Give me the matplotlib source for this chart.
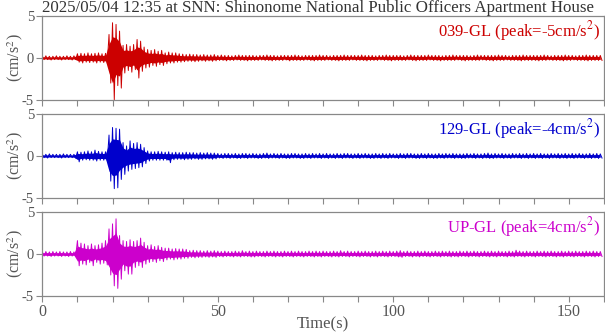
import matplotlib
matplotlib.use("Agg")
import matplotlib.pyplot as plt
import numpy as np

plt.rcParams['font.family'] = ['Liberation Serif', 'DejaVu Serif']
plt.rcParams['mathtext.fontset'] = 'stix'
plt.rcParams['axes.unicode_minus'] = False

# ---- record info
title = "2025/05/04 12:35 at SNN: Shinonome National Public Officers Apartment House"
channels = ["039-GL", "129-GL", "UP-GL"]
peaks = [-5, -4, 4]
colors = ["#cc0000", "#0000cc", "#cc00cc"]

# ---- envelope, 1 s steps (upper peak at t, lower peak at t+0.5)
ew_hi = [0.2, 0.25, 0.2, 0.2, 0.25, 0.2, 0.2, 0.25, 0.2, 0.25,
         0.5, 0.55, 0.5, 0.6, 0.5, 0.55, 0.6, 0.5, 0.55, 2.8,
         4.2, 4.0, 3.2, 1.5, 1.6, 1.4, 1.6, 2.2, 2.0, 1.3,
         1.0, 0.9, 1.0, 0.8, 0.9, 0.6, 0.7, 0.6, 0.6, 0.5,
         0.45, 0.4, 0.45, 0.4, 0.4, 0.35, 0.4, 0.35, 0.35, 0.4,
         0.3, 0.35, 0.3, 0.3, 0.25, 0.3, 0.35, 0.3, 0.3, 0.3,
         0.3, 0.25, 0.3, 0.3, 0.35, 0.3, 0.3, 0.25, 0.3, 0.3,
         0.3, 0.3, 0.35, 0.3, 0.25, 0.3, 0.3, 0.3, 0.3, 0.35,
         0.3, 0.3, 0.25, 0.3, 0.3, 0.3, 0.35, 0.3, 0.3, 0.3,
         0.3, 0.35, 0.3, 0.3, 0.3, 0.25, 0.3, 0.3, 0.35, 0.3,
         0.3, 0.3, 0.3, 0.25, 0.3, 0.35, 0.3, 0.3, 0.3, 0.3,
         0.35, 0.3, 0.3, 0.3, 0.25, 0.3, 0.3, 0.35, 0.3, 0.3,
         0.3, 0.3, 0.25, 0.3, 0.35, 0.3, 0.3, 0.3, 0.3, 0.3,
         0.35, 0.3, 0.3, 0.25, 0.3, 0.3, 0.3, 0.35, 0.3, 0.3,
         0.3, 0.3, 0.3, 0.35, 0.3, 0.25, 0.3, 0.3, 0.3, 0.35,
         0.3, 0.3, 0.25, 0.3, 0.3, 0.35, 0.3, 0.3, 0.3, 0.3]
ew_lo = [-0.2, -0.2, -0.25, -0.2, -0.2, -0.25, -0.2, -0.2, -0.25, -0.2,
         -0.5, -0.6, -0.5, -0.55, -0.5, -0.6, -0.5, -0.55, -0.6, -3.0,
         -5.0, -3.3, -3.6, -1.8, -1.5, -1.7, -1.4, -2.4, -1.6, -1.2,
         -1.1, -0.9, -1.0, -0.8, -0.9, -0.7, -0.6, -0.6, -0.5, -0.5,
         -0.45, -0.4, -0.4, -0.45, -0.4, -0.35, -0.4, -0.35, -0.4, -0.35,
         -0.3, -0.3, -0.35, -0.3, -0.3, -0.25, -0.3, -0.3, -0.35, -0.3,
         -0.3, -0.3, -0.25, -0.3, -0.3, -0.35, -0.3, -0.3, -0.3, -0.25,
         -0.35, -0.3, -0.3, -0.3, -0.3, -0.25, -0.3, -0.35, -0.3, -0.3,
         -0.3, -0.25, -0.3, -0.3, -0.35, -0.3, -0.3, -0.3, -0.25, -0.3,
         -0.3, -0.3, -0.35, -0.3, -0.3, -0.3, -0.25, -0.3, -0.3, -0.35,
         -0.3, -0.3, -0.3, -0.3, -0.25, -0.3, -0.35, -0.3, -0.3, -0.3,
         -0.25, -0.3, -0.3, -0.35, -0.3, -0.3, -0.3, -0.3, -0.25, -0.3,
         -0.35, -0.3, -0.3, -0.3, -0.3, -0.25, -0.3, -0.3, -0.35, -0.3,
         -0.3, -0.3, -0.25, -0.3, -0.3, -0.3, -0.35, -0.3, -0.3, -0.3,
         -0.3, -0.35, -0.3, -0.3, -0.25, -0.3, -0.3, -0.3, -0.35, -0.3,
         -0.3, -0.25, -0.3, -0.3, -0.3, -0.35, -0.3, -0.3, -0.3, -0.3]

ns_hi = [0.2, 0.2, 0.25, 0.2, 0.2, 0.2, 0.25, 0.2, 0.2, 0.2,
         0.5, 0.45, 0.5, 0.6, 0.5, 0.7, 0.55, 0.5, 0.5, 2.5,
         3.4, 3.3, 3.2, 1.6, 1.2, 1.8, 1.5, 1.6, 1.4, 1.0,
         0.6, 0.5, 0.5, 0.55, 0.5, 0.45, 0.5, 0.4, 0.45, 0.4,
         0.4, 0.45, 0.4, 0.4, 0.35, 0.4, 0.35, 0.4, 0.35, 0.35,
         0.3, 0.25, 0.3, 0.3, 0.25, 0.3, 0.25, 0.3, 0.3, 0.25,
         0.3, 0.25, 0.25, 0.3, 0.35, 0.25, 0.3, 0.25, 0.3, 0.25,
         0.25, 0.3, 0.3, 0.25, 0.25, 0.3, 0.25, 0.3, 0.25, 0.3,
         0.25, 0.3, 0.25, 0.25, 0.3, 0.25, 0.3, 0.3, 0.25, 0.25,
         0.3, 0.25, 0.3, 0.25, 0.25, 0.3, 0.25, 0.3, 0.25, 0.3,
         0.25, 0.25, 0.3, 0.25, 0.3, 0.3, 0.25, 0.25, 0.3, 0.25,
         0.3, 0.25, 0.25, 0.3, 0.25, 0.3, 0.25, 0.3, 0.25, 0.25,
         0.25, 0.3, 0.25, 0.3, 0.25, 0.25, 0.3, 0.35, 0.25, 0.3,
         0.25, 0.3, 0.25, 0.25, 0.3, 0.25, 0.3, 0.25, 0.3, 0.25,
         0.3, 0.25, 0.3, 0.25, 0.25, 0.3, 0.25, 0.3, 0.25, 0.3,
         0.25, 0.3, 0.25, 0.3, 0.25, 0.25, 0.3, 0.25, 0.3, 0.25]
ns_lo = [-0.2, -0.25, -0.2, -0.2, -0.2, -0.25, -0.2, -0.2, -0.2, -0.25,
         -0.7, -0.5, -0.45, -0.5, -0.5, -0.6, -0.5, -0.5, -0.55, -3.0,
         -3.9, -3.8, -2.8, -2.2, -1.8, -1.6, -1.5, -1.4, -1.3, -0.9,
         -0.6, -0.5, -0.5, -0.5, -0.5, -0.5, -0.8, -0.45, -0.4, -0.4,
         -0.45, -0.4, -0.4, -0.35, -0.4, -0.4, -0.35, -0.35, -0.4, -0.35,
         -0.25, -0.3, -0.25, -0.3, -0.25, -0.3, -0.3, -0.25, -0.3, -0.25,
         -0.25, -0.3, -0.3, -0.25, -0.3, -0.25, -0.25, -0.3, -0.25, -0.3,
         -0.3, -0.25, -0.25, -0.3, -0.3, -0.25, -0.3, -0.25, -0.25, -0.3,
         -0.25, -0.3, -0.25, -0.3, -0.25, -0.3, -0.25, -0.25, -0.3, -0.25,
         -0.3, -0.25, -0.25, -0.3, -0.3, -0.25, -0.3, -0.25, -0.3, -0.25,
         -0.25, -0.3, -0.25, -0.3, -0.25, -0.25, -0.3, -0.3, -0.25, -0.3,
         -0.25, -0.3, -0.3, -0.25, -0.3, -0.25, -0.25, -0.3, -0.25, -0.3,
         -0.3, -0.25, -0.25, -0.3, -0.25, -0.3, -0.25, -0.3, -0.3, -0.25,
         -0.25, -0.3, -0.25, -0.3, -0.25, -0.25, -0.3, -0.25, -0.3, -0.25,
         -0.3, -0.25, -0.3, -0.25, -0.3, -0.25, -0.25, -0.3, -0.25, -0.3,
         -0.25, -0.3, -0.25, -0.25, -0.3, -0.25, -0.3, -0.25, -0.3, -0.25]

ud_hi = [0.25, 0.3, 0.25, 0.3, 0.25, 0.3, 0.25, 0.25, 0.3, 0.25,
         1.6, 1.3, 1.2, 1.0, 1.2, 1.0, 1.1, 1.3, 1.6, 3.0,
         3.6, 4.2, 2.2, 1.6, 1.5, 1.7, 1.5, 1.6, 1.9, 1.4,
         1.0, 1.1, 0.9, 1.0, 0.8, 0.7, 0.7, 0.6, 0.65, 0.6,
         0.6, 0.55, 0.4, 0.45, 0.4, 0.4, 0.35, 0.4, 0.35, 0.4,
         0.35, 0.3, 0.35, 0.3, 0.3, 0.35, 0.3, 0.4, 0.3, 0.35,
         0.3, 0.35, 0.3, 0.3, 0.35, 0.3, 0.35, 0.3, 0.3, 0.35,
         0.3, 0.35, 0.3, 0.35, 0.3, 0.3, 0.35, 0.3, 0.35, 0.3,
         0.35, 0.3, 0.3, 0.35, 0.3, 0.4, 0.3, 0.35, 0.3, 0.3,
         0.35, 0.3, 0.35, 0.3, 0.3, 0.35, 0.3, 0.35, 0.3, 0.35,
         0.3, 0.35, 0.4, 0.3, 0.35, 0.3, 0.3, 0.35, 0.3, 0.35,
         0.3, 0.3, 0.35, 0.3, 0.35, 0.3, 0.35, 0.3, 0.3, 0.35,
         0.3, 0.35, 0.3, 0.35, 0.3, 0.3, 0.35, 0.3, 0.35, 0.3,
         0.35, 0.3, 0.3, 0.35, 0.3, 0.45, 0.35, 0.3, 0.35, 0.3,
         0.3, 0.35, 0.3, 0.35, 0.3, 0.35, 0.3, 0.3, 0.35, 0.3,
         0.35, 0.3, 0.35, 0.3, 0.3, 0.35, 0.3, 0.35, 0.3, 0.3]
ud_lo = [-0.25, -0.25, -0.3, -0.25, -0.25, -0.3, -0.25, -0.3, -0.25, -0.25,
         -1.4, -1.2, -1.3, -1.0, -1.4, -1.0, -1.2, -1.1, -1.3, -2.5,
         -3.8, -4.1, -3.0, -2.0, -2.4, -2.4, -1.6, -1.4, -1.6, -1.2,
         -1.0, -0.9, -1.0, -0.8, -0.9, -0.7, -0.6, -0.7, -0.6, -0.6,
         -0.5, -0.5, -0.4, -0.45, -0.4, -0.4, -0.35, -0.4, -0.35, -0.4,
         -0.3, -0.35, -0.3, -0.3, -0.35, -0.3, -0.35, -0.3, -0.3, -0.35,
         -0.35, -0.3, -0.3, -0.35, -0.3, -0.3, -0.35, -0.3, -0.35, -0.3,
         -0.3, -0.35, -0.3, -0.3, -0.35, -0.3, -0.3, -0.35, -0.3, -0.35,
         -0.3, -0.3, -0.35, -0.3, -0.35, -0.3, -0.3, -0.35, -0.3, -0.3,
         -0.35, -0.3, -0.3, -0.35, -0.3, -0.35, -0.3, -0.3, -0.35, -0.3,
         -0.3, -0.35, -0.4, -0.3, -0.3, -0.35, -0.3, -0.35, -0.3, -0.3,
         -0.35, -0.3, -0.3, -0.35, -0.3, -0.3, -0.35, -0.3, -0.35, -0.3,
         -0.3, -0.35, -0.3, -0.3, -0.35, -0.3, -0.3, -0.35, -0.3, -0.35,
         -0.3, -0.3, -0.35, -0.3, -0.35, -0.3, -0.3, -0.35, -0.3, -0.3,
         -0.35, -0.3, -0.3, -0.35, -0.3, -0.3, -0.35, -0.3, -0.35, -0.3,
         -0.3, -0.35, -0.3, -0.3, -0.35, -0.3, -0.3, -0.35, -0.3, -0.3]

highs = [ew_hi, ns_hi, ud_hi]
lows = [ew_lo, ns_lo, ud_lo]

gray = "#555555"
fs = 12
fig, axes = plt.subplots(3, 1, figsize=(6.05, 3.34), dpi=100, sharex=True)
plt.subplots_adjust(left=0.07, right=0.998, top=0.952, bottom=0.114, hspace=0.17)

for i, ax in enumerate(axes):
        hi = np.array(highs[i])
        lo = np.array(lows[i])
        t = np.arange(len(hi))
        # ---- solid band between envelopes, plus zigzag for the spikes
        ax.fill_between(t, lo * 0.6, hi * 0.6, color=colors[i], linewidth=0)
        x = np.empty(2 * len(t))
        y = np.empty(2 * len(t))
        x[0::2] = t
        x[1::2] = t + 0.5
        y[0::2] = hi
        y[1::2] = lo
        ax.plot(x, y, color=colors[i], linewidth=0.7)

        ax.set_xlim(0, 160)
        ax.set_ylim(-5, 5)
        ax.set_yticks([-5, 0, 5])
        ax.set_xticks([0, 50, 100, 150])
        ax.set_xticks(np.arange(0, 161, 10), minor=True)
        ax.tick_params(which='both', direction='out', length=4, color='#888888',
                       labelcolor=gray, labelsize=11.5, width=0.8, pad=2)
        ax.tick_params(axis='y', labelsize=10.5)
        for sp in ax.spines.values():
                sp.set_color('#888888')
                sp.set_linewidth(0.9)
        ax.set_ylabel("(cm/s$^2$)", color=gray, fontsize=11.5, va='center')
        ax.yaxis.set_label_coords(-0.048, 0.5)
        ax.text(0.993, 0.96, channels[i] + " (peak=" + str(peaks[i]) + "cm/s$^2$)",
                transform=ax.transAxes, ha='right', va='top', color=colors[i], fontsize=fs)

fig.text(0.07, 1 - 7.5 / 334, title, ha='left', va='center', fontsize=12.2, color='#333333')
axes[2].set_xlabel("Time(s)", color=gray, fontsize=fs)
axes[2].xaxis.set_label_coords(0.5, -0.34)
axes[2].xaxis.label.set_va('center')

plt.savefig("out.png", dpi=100)
